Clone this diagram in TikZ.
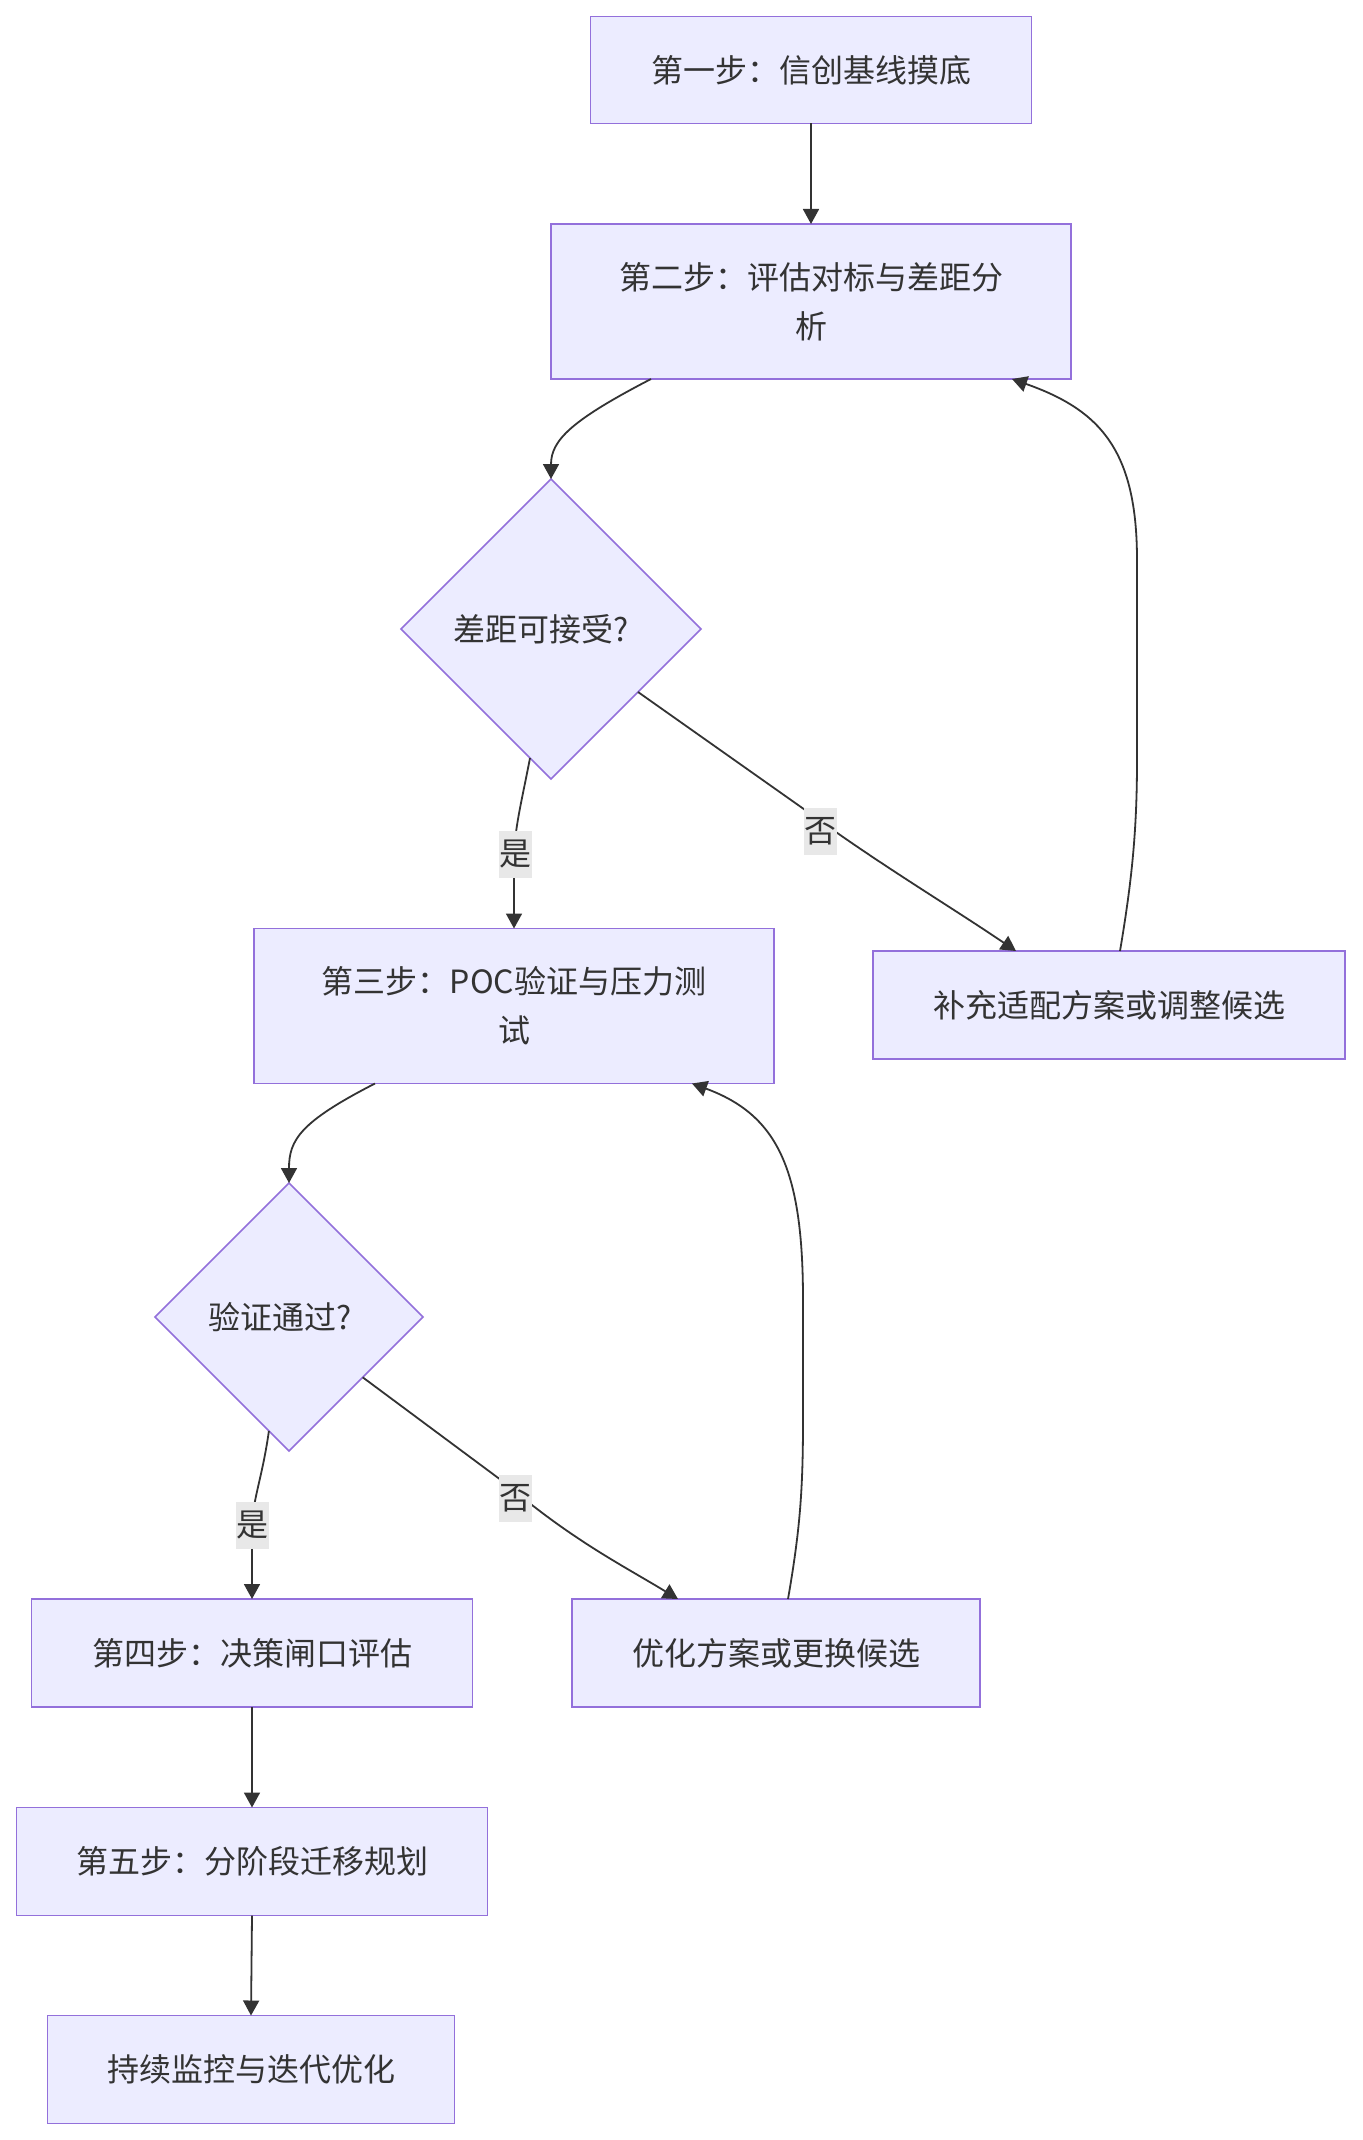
\documentclass[tikz,border=0pt]{standalone}
\usepackage{fontspec}
\setmainfont{Noto Sans CJK SC}
\usetikzlibrary{arrows.meta,shapes.geometric,calc}
\definecolor{boxfill}{HTML}{ECECFF}
\definecolor{boxline}{HTML}{9370DB}
\definecolor{txt}{HTML}{333333}
\definecolor{lblbg}{HTML}{E8E8E8}
\begin{document}
\begin{tikzpicture}[x=0.5pt,y=-0.5pt,
  box/.style={draw=boxline,fill=boxfill,line width=0.75pt,text=txt,
    font=\fontsize{16pt}{24.5pt}\selectfont,align=center,inner sep=0pt,outer sep=0pt},
  dec/.style={diamond,aspect=1,draw=boxline,fill=boxfill,line width=0.75pt,text=txt,
    font=\fontsize{16pt}{24.5pt}\selectfont,inner sep=0pt,outer sep=0pt},
  edge/.style={draw=txt,line width=0.9pt,-{Triangle[length=7.5pt,width=8pt]}},
  lbl/.style={fill=lblbg,text=txt,font=\fontsize{16pt}{20pt}\selectfont,inner sep=0pt,
    minimum width=16.5pt,minimum height=23.5pt}
]
\useasboundingbox (0,0) rectangle (1362,2140);
\fill[white] (0,0) rectangle (1362,2140);

\node[box,minimum width=220.5pt,minimum height=53.5pt] (b1) at (811,70) {第一步：信创基线摸底};
\node[box,minimum width=260pt,minimum height=77.5pt] (b2) at (811,301.5) {第二步：评估对标与差距分\\析};
\node[dec,minimum width=150pt,minimum height=150pt] (d1) at (551,629) {差距可接受?\kern10pt};
\node[box,minimum width=260pt,minimum height=77.5pt] (b3) at (514,1006) {第三步：POC验证与压力测\\试};
\node[box,minimum width=236pt,minimum height=54pt] (bfix) at (1109,1005) {补充适配方案或调整候选};
\node[dec,minimum width=134pt,minimum height=134pt] (d2) at (289,1317) {验证通过?\kern9pt};
\node[box,minimum width=220.5pt,minimum height=54pt] (b4) at (252,1653) {第四步：决策闸口评估};
\node[box,minimum width=204pt,minimum height=54pt] (bopt) at (776,1653) {优化方案或更换候选};
\node[box,minimum width=235.5pt,minimum height=54pt] (b5) at (252,1861.5) {第五步：分阶段迁移规划};
\node[box,minimum width=203.5pt,minimum height=54pt] (b6) at (251,2069.5) {持续监控与迭代优化};

\draw[edge] (b1.south) -- (b2.north);
\draw[edge] ($(b2.south)+(-160,0)$) .. controls (572,420) and (551,440) .. (d1.north);
\draw[edge] ($(d1.south)!0.14!(d1.west)$) .. controls (522,800) and (514,830) .. (514,860) -- (b3.north);
\draw[edge] ($(d1.east)!0.42!(d1.south)$) -- (808,812) .. controls (876,862) and (948,905) .. ($(bfix.north)+(-93,0)$);
\draw[edge] ($(bfix.north)+(11,0)$) .. controls (1132,880) and (1137,830) .. (1137,760) -- (1137,560) .. controls (1137,450) and (1100,410) .. ($(b2.south)+(201,0)$);

\draw[edge] ($(b3.south)+(-139,0)$) .. controls (300,1122) and (289,1140) .. (d2.north);
\draw[edge] ($(d2.south)!0.15!(d2.west)$) .. controls (262,1480) and (252,1500) .. (252,1530) -- (b4.north);
\draw[edge] ($(d2.east)!0.45!(d2.south)$) -- (505,1483) .. controls (572,1540) and (622,1565) .. ($(bopt.north)+(-98,0)$);
\draw[edge] ($(bopt.north)+(12,0)$) .. controls (800,1530) and (803,1490) .. (803,1420) -- (803,1300) .. controls (803,1170) and (778,1115) .. ($(b3.south)+(178,0)$);

\draw[edge] (b4.south) -- (b5.north);
\draw[edge] (b5.south) -- (b6.north);

\node[lbl] (l1) at (515,854) {是};
\node[lbl] (l2) at (820,831) {否};
\node[lbl] (l3) at (252,1525) {是};
\node[lbl] (l4) at (515,1498) {否};
\end{tikzpicture}
\end{document}
